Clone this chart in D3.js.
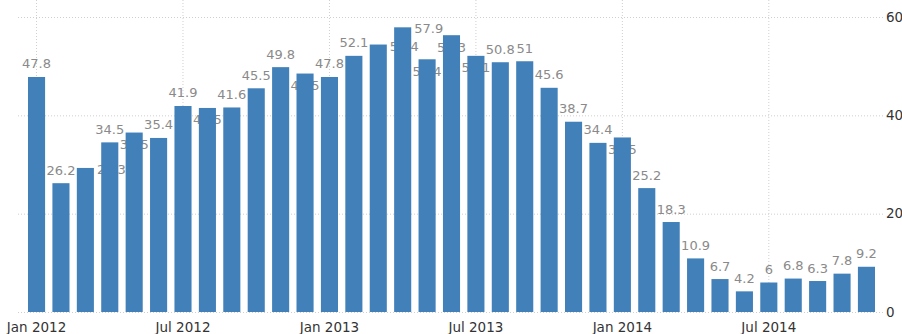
<!DOCTYPE html>
<html>
<head>
<meta charset="utf-8">
<script src="https://cdn.jsdelivr.net/npm/d3@7"></script>
<style>
  html, body { margin: 0; padding: 0; background: #fff; }
  svg { display: block; }
  .tick text { font-family: "DejaVu Sans", sans-serif; }
</style>
</head>
<body>
<svg id="chart" width="902" height="334"></svg>
<script>
// Monthly categories, Jan 2012 – Nov 2014
const months = [
  "2012-01","2012-02","2012-03","2012-04","2012-05","2012-06",
  "2012-07","2012-08","2012-09","2012-10","2012-11","2012-12",
  "2013-01","2013-02","2013-03","2013-04","2013-05","2013-06",
  "2013-07","2013-08","2013-09","2013-10","2013-11","2013-12",
  "2014-01","2014-02","2014-03","2014-04","2014-05","2014-06",
  "2014-07","2014-08","2014-09","2014-10","2014-11"
];

// Value for each month
const values = [
  47.8, 26.2, 29.3, 34.5, 36.5, 35.4,
  41.9, 41.5, 41.6, 45.5, 49.8, 48.5,
  47.8, 52.1, 54.4, 57.9, 51.4, 56.3,
  52.1, 50.8, 51, 45.6, 38.7, 34.4,
  35.5, 25.2, 18.3, 10.9, 6.7, 4.2,
  6, 6.8, 6.3, 7.8, 9.2
];

// Where each value label sits relative to its bar
const labelPlacement = [
  "above","above","side","above","inside","above",
  "above","inside","above","above","above","inside",
  "above","above","side","side","inside","inside",
  "inside","above","above","above","above","above",
  "inside","above","above","above","above","above",
  "above","above","above","above","above"
];

// Axis ticks
const xTicks = ["2012-01","2012-07","2013-01","2013-07","2014-01","2014-07"];
const yTicks = [0, 20, 40, 60];

const parse = d3.timeParse("%Y-%m");
const fmt = d3.timeFormat("%b %Y");

const svg = d3.select("#chart");
const plotLeft = 17, plotRight = 883, plotTop = 17, plotBottom = 312;

const x = d3.scaleBand().domain(months).range([28, 875]).paddingInner(0.3);
const y = d3.scaleLinear().domain([0, 60]).range([plotBottom, plotTop]);

// horizontal grid
svg.append("g")
  .attr("transform", `translate(${plotRight},0)`)
  .call(d3.axisRight(y).tickValues(yTicks).tickSize(-(plotRight - plotLeft)).tickFormat(""))
  .call(g => g.select(".domain").remove())
  .call(g => g.selectAll("line").attr("stroke", "#cfcfcf").attr("stroke-dasharray", "1,2"));

// vertical grid at half-year marks
svg.append("g")
  .selectAll("line")
  .data(xTicks)
  .join("line")
  .attr("x1", d => x(d) + x.bandwidth() / 2)
  .attr("x2", d => x(d) + x.bandwidth() / 2)
  .attr("y1", 0)
  .attr("y2", plotBottom)
  .attr("stroke", "#cfcfcf")
  .attr("stroke-dasharray", "1,2");

const data = months.map((m, i) => ({ m, v: values[i], p: labelPlacement[i] }));

// value labels (drawn beneath the bars)
svg.append("g")
  .selectAll("text")
  .data(data)
  .join("text")
  .attr("x", d => x(d.m) + x.bandwidth() / 2 + (d.p === "side" ? 26 : 0))
  .attr("y", d => {
    const t = y(d.v);
    if (d.p === "inside") return t + 16.5;
    if (d.p === "side") return t + 6;
    return t - 8.5;
  })
  .attr("text-anchor", "middle")
  .attr("font-family", "DejaVu Sans, sans-serif")
  .attr("font-size", 13)
  .attr("fill", "#8a8a8a")
  .text(d => d.v);

// bars
svg.append("g")
  .selectAll("rect")
  .data(data)
  .join("rect")
  .attr("x", d => x(d.m))
  .attr("width", x.bandwidth())
  .attr("y", d => y(d.v))
  .attr("height", d => y(0) - y(d.v))
  .attr("fill", "#4180b9");

// bottom axis labels
svg.append("g")
  .attr("transform", `translate(0,${plotBottom})`)
  .call(d3.axisBottom(x).tickValues(xTicks).tickSize(0).tickPadding(10)
    .tickFormat(d => fmt(parse(d))))
  .call(g => g.select(".domain").remove())
  .call(g => g.selectAll("text").attr("font-size", 13.5).attr("fill", "#333"));

// right axis labels
svg.append("g")
  .attr("transform", `translate(${plotRight},0)`)
  .call(d3.axisRight(y).tickValues(yTicks).tickSize(0).tickPadding(3))
  .call(g => g.select(".domain").remove())
  .call(g => g.selectAll("text").attr("font-size", 13.5).attr("fill", "#333"));
</script>
</body>
</html>
